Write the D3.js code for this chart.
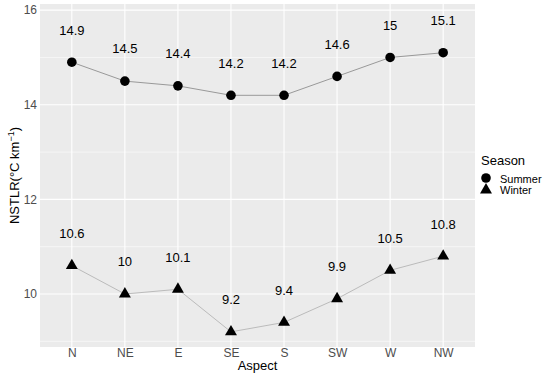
<!DOCTYPE html>
<html>
<head>
<meta charset="utf-8">
<script src="https://cdn.jsdelivr.net/npm/d3@7"></script>
<style>
body{margin:0;background:#fff;}
svg{font-family:"Liberation Sans",Arial,sans-serif;}
</style>
</head>
<body>
<div id="chart"></div>
<script>
// data
var aspects = ['N','NE','E','SE','S','SW','W','NW'];
var summer = [14.9,14.5,14.4,14.2,14.2,14.6,15.0,15.1];
var winter = [10.6,10.0,10.1,9.2,9.4,9.9,10.5,10.8];
var summerLabels = ['14.9','14.5','14.4','14.2','14.2','14.6','15','15.1'];
var winterLabels = ['10.6','10','10.1','9.2','9.4','9.9','10.5','10.8'];
var yTicks = [10,12,14,16];
var yMinor = [9,11,13,15];

var width = 550, height = 376;
var panel = {l:40, r:475, t:4, b:347};

var svg = d3.select('#chart').append('svg')
    .attr('width',width)
    .attr('height',height);

var x = d3.scalePoint()
    .domain(aspects)
    .range([panel.l, panel.r])
    .padding(0.6);

var y = d3.scaleLinear()
    .domain([8.88,16.13])
    .range([panel.b, panel.t]);

// panel background + grid
svg.append('rect')
    .attr('x',panel.l).attr('y',panel.t)
    .attr('width',panel.r-panel.l).attr('height',panel.b-panel.t)
    .style('fill','#ebebeb');

svg.selectAll('.minor')
    .data(yMinor).enter().append('line')
    .attr('x1',panel.l).attr('x2',panel.r)
    .attr('y1',d=>y(d)).attr('y2',d=>y(d))
    .style('stroke','#fff').style('stroke-width',0.55);

svg.selectAll('.majorY')
    .data(yTicks).enter().append('line')
    .attr('x1',panel.l).attr('x2',panel.r)
    .attr('y1',d=>y(d)).attr('y2',d=>y(d))
    .style('stroke','#fff').style('stroke-width',1.1);

svg.selectAll('.majorX')
    .data(aspects).enter().append('line')
    .attr('x1',d=>x(d)).attr('x2',d=>x(d))
    .attr('y1',panel.t).attr('y2',panel.b)
    .style('stroke','#fff').style('stroke-width',1.1);

// axes (no visible tick marks in the original)
var yAxis = svg.append('g')
    .attr('transform','translate('+panel.l+',0)')
    .call(d3.axisLeft(y).tickValues(yTicks).tickSize(0).tickPadding(3));
var xAxis = svg.append('g')
    .attr('transform','translate(0,'+panel.b+')')
    .call(d3.axisBottom(x).tickSize(0).tickPadding(1));
[yAxis,xAxis].forEach(function(a){
    a.select('.domain').remove();
    a.selectAll('line').remove();
    a.selectAll('text').style('fill','#4d4d4d').style('font-size','12px')
        .style('font-family','"Liberation Sans",Arial,sans-serif');
});

svg.append('text')
    .attr('x',(panel.l+panel.r)/2).attr('y',370)
    .attr('text-anchor','middle')
    .style('font-size','13px')
    .text('Aspect');

var yt = svg.append('text')
    .attr('transform','translate(19,'+((panel.t+panel.b)/2)+') rotate(-90)')
    .attr('text-anchor','middle')
    .style('font-size','13px');
yt.append('tspan').text('NSTLR(°C km');
yt.append('tspan').attr('dy',-5).style('font-size','9px').text('−1');
yt.append('tspan').attr('dy',5).text(')');

// series
var series = [
    {name:'Summer', values:summer, labels:summerLabels, stroke:'#999'},
    {name:'Winter', values:winter, labels:winterLabels, stroke:'#bbb'}
];
var line = d3.line()
    .x((d,i)=>x(aspects[i]))
    .y(d=>y(d));

series.forEach(function(s){
    svg.append('path')
        .datum(s.values)
        .attr('d',line)
        .style('fill','none')
        .style('stroke',s.stroke)
        .style('stroke-width',1);
});

svg.selectAll('.sPt')
    .data(summer).enter().append('circle')
    .attr('cx',(d,i)=>x(aspects[i]))
    .attr('cy',d=>y(d))
    .attr('r',4.8)
    .style('fill','#000');

var tri = d3.symbol().type(d3.symbolTriangle).size(62);
svg.selectAll('.wPt')
    .data(winter).enter().append('path')
    .attr('d',tri)
    .attr('transform',(d,i)=>'translate('+x(aspects[i])+','+y(d)+')')
    .style('fill','#000');

series.forEach(function(s){
    svg.selectAll(null)
        .data(s.values).enter().append('text')
        .attr('x',(d,i)=>x(aspects[i]))
        .attr('y',d=>y(d+0.68))
        .attr('dy','0.35em')
        .attr('text-anchor','middle')
        .style('font-size','13px')
        .text((d,i)=>s.labels[i]);
});

// legend
var lg = svg.append('g').attr('transform','translate(481,0)');
lg.append('text').attr('x',0).attr('y',165).style('font-size','13px').text('Season');
lg.append('circle').attr('cx',5).attr('cy',178).attr('r',4.8).style('fill','#000');
lg.append('path').attr('d',tri).attr('transform','translate(5,190)').style('fill','#000');
lg.append('text').attr('x',19).attr('y',179).attr('dy','0.35em').style('font-size','11px').text('Summer');
lg.append('text').attr('x',19).attr('y',190).attr('dy','0.35em').style('font-size','11px').text('Winter');
</script>
</body>
</html>
